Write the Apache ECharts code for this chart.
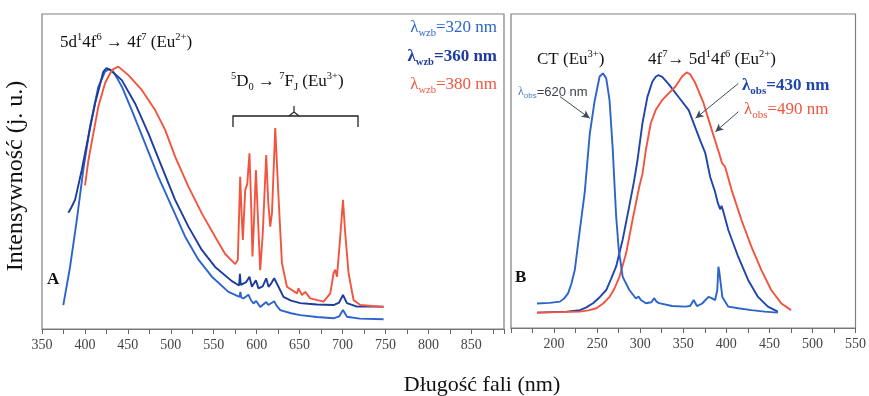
<!DOCTYPE html>
<html>
<head>
<meta charset="utf-8">
<script src="https://cdn.jsdelivr.net/npm/echarts@6/dist/echarts.min.js"></script>
<style>
html,body{margin:0;padding:0;background:#fff;}
#chart{width:869px;height:396px;}
</style>
</head>
<body>
<div id="chart"></div>
<script>
// ---- tick labels ----
const leftTickLabels = [350, 400, 450, 500, 550, 600, 650, 700, 750, 800, 850];
const rightTickLabels = [200, 250, 300, 350, 400, 450, 500, 550];

// ---- Panel A: emission spectra [wavelength nm, intensity a.u.] ----
const em320 = [[374.8,7.6],[382.6,19.6],[390.4,34.3],[398.1,50.5],[405.9,64.2],[415.6,76.9],[423.4,81.7],[428,82.5],[433.1,81.7],[442.9,77],[454.5,69.5],[470,58.9],[485.5,48.3],[501.2,38.8],[516.7,29.3],[532.2,22],[547.8,16.6],[567.1,11.8],[580,10.2],[581,11.8],[582,10],[584.6,9.7],[588,10.4],[590.4,10.9],[593,9.3],[596.3,8.1],[599.4,8.9],[604.1,7],[611.1,8.6],[613.5,7.6],[615.8,8.1],[620.4,8.8],[623,7.5],[627.4,6],[640,5],[650.7,4.4],[670,3.8],[689.5,3.4],[696,4],[700.5,6],[705.1,3.9],[720,3.3],[747.8,3.1]];
const em360 = [[380.7,36.9],[384,38.5],[388.5,41],[396.3,50.5],[404,61.1],[411.8,71.6],[421.4,81.7],[425,82.8],[429.3,82.3],[442.9,79],[458.4,71.6],[473.9,62.1],[489.5,51.5],[505,41],[520.5,32.5],[536.1,25.1],[551.6,19.7],[571.1,15.2],[579.5,13.8],[580.5,17.5],[581.5,14],[583,13.8],[587.8,14.9],[591.6,16.6],[594.4,13.4],[599.1,15.5],[602.1,12.9],[607,13.5],[611.1,16.1],[613.8,13.4],[617,14.5],[620.4,16.1],[625.4,13.4],[631.2,10.2],[640,9],[650.7,8.2],[660,8],[670,7.8],[689.5,7.6],[696,8.4],[700.5,10.8],[705.1,8.2],[716.8,7.1],[747.8,7.1]];
const em380 = [[400.1,45.6],[404,53.5],[409.8,62.1],[415.6,70.6],[423.4,78],[429.3,81.2],[433,82.5],[438.9,83.3],[450.6,80.6],[466.2,75.9],[481.7,69.5],[493.4,63.2],[505,54.7],[520.5,45.2],[536.1,36.7],[551.6,29.3],[563.3,23.8],[575,20.6],[578,22],[580.8,48.3],[582.5,36],[583.9,28.3],[586.6,44.1],[589,46],[591.6,55.8],[593.5,40],[595.1,23],[597,35],[599.1,50.5],[601.5,35],[604.1,18.7],[607,30],[611.1,55.2],[613.5,40],[615.8,32.5],[617.8,36.8],[621.6,63.8],[625.4,42],[629.4,20.9],[635.2,13.4],[646.9,11.3],[648.7,12.9],[652.7,10.8],[656.5,11.8],[662.4,9.7],[677.9,8.7],[685.7,11.3],[689.5,17.7],[691.5,18.8],[693.5,16.6],[697.3,29.3],[700.5,41],[703.1,30.4],[707,17.7],[712.8,9.2],[720.6,7.6],[747.8,7]];

// ---- Panel B: excitation spectra ----
const exc620 = [[180.1,7.8],[195,8],[206.9,8.4],[212,9.5],[216.4,11.1],[220,14],[224.1,18.5],[229.9,31.2],[235.6,43.2],[241.4,61.7],[247.1,72.3],[252.9,80.1],[256.7,81.1],[260.6,79.5],[264.4,72.6],[268.2,56.7],[270.1,46.1],[272.1,35.5],[275.1,25],[279.7,16.3],[287.4,12.1],[295.1,9.4],[298.1,10],[300.8,8.9],[306.6,7.9],[313,8.2],[316.1,9.5],[319,8.4],[321.8,7.9],[337.1,7],[352.5,6.8],[358,7],[362.1,8.9],[365.9,7],[372,7.8],[379.3,9.9],[383,9.5],[387,8.9],[389.5,12],[390.8,19.5],[391.8,18],[392.8,18.5],[395.4,9.9],[402.3,6.8],[413.8,6.3],[429.1,5.7],[444.5,5.2],[459.8,4.9]];
const exc430 = [[180.1,4.9],[214.6,5.2],[229.9,5.7],[237,6.5],[245.2,7.9],[253,9.8],[260.6,12.1],[266,15.5],[272.1,19.6],[279.7,28.2],[287.4,38.9],[293.1,47.1],[296.9,53.5],[302.6,65.2],[308.4,73.6],[314.1,78.4],[318,80],[321,80.5],[325.6,80],[333.3,77.6],[344.8,73.5],[356.3,69.4],[364,63.8],[370,59.5],[375.5,55.8],[381.3,48.1],[387,43.3],[390,40],[392.8,37.8],[394.5,38.9],[396.6,37],[402.3,31.2],[413.8,22.7],[425.3,15.3],[436.8,9.9],[448.3,6.8],[459.8,5.2]];
const exc490 = [[180.1,4.9],[229.9,5.2],[240,5.6],[249.1,6.3],[257,7.8],[264.4,9.9],[270,12.5],[275.9,16.3],[283.6,23.7],[291.1,34.4],[298.9,45],[302.6,49],[306.6,56.7],[312.3,65.2],[318,69.4],[325.6,72.6],[333.3,74.8],[341,76.9],[348.6,80.1],[354,81.4],[358,80.8],[364,78],[373.6,71.6],[383.1,63.1],[392.8,54.6],[395,52.5],[398.5,51.4],[406.1,44],[417.6,34.4],[429.1,25.9],[440.6,18.5],[452.1,12.1],[463.6,7.9],[475.1,5.7]];

// annotation arrows (data coordinates, panel B)
const arrow620 = [[206.9,73.7],[241.4,66.8]];
const arrow430 = [[414.1,77.9],[364.3,66.8]];
const arrow490 = [[414.1,68.9],[387.3,62.5]];

const SERIF = '"Liberation Serif", "DejaVu Serif", serif';
const SANS = '"Liberation Sans", Arial, sans-serif';
const C320 = '#2c64cc', C360 = '#1d3c9c', CRED = '#f2553f';
const CBLUE_B = '#1f46aa';

const chart = echarts.init(document.getElementById('chart'), null, {renderer: 'canvas'});

function xAxisCfg(grid, min, max, labels) {
  return {
    gridIndex: grid, type: 'value', min: min, max: max, interval: 25,
    axisLine: {show: true, onZero: false, lineStyle: {color: '#777', width: 1.2}},
    axisTick: {show: true, length: 5, lineStyle: {color: '#666', width: 1}},
    axisLabel: {
      formatter: v => labels.includes(v) ? String(v) : '',
      fontFamily: SERIF, fontSize: 14, color: '#444', margin: 9,
      showMinLabel: true, showMaxLabel: true
    },
    splitLine: {show: false}
  };
}
function yAxisCfg(grid) {
  return {gridIndex: grid, type: 'value', min: 0, max: 100, show: false, splitLine: {show: false}};
}
function lineSeries(data, color, xi, width) {
  return {
    type: 'line', data: data, xAxisIndex: xi, yAxisIndex: xi,
    showSymbol: false, symbol: 'none', smooth: false,
    lineStyle: {color: color, width: width || 1.9}, silent: true
  };
}

const sup = {fontSize: 10.5, lineHeight: 12, verticalAlign: 'top', fontFamily: SERIF, fill: '#111'};
const sub = {fontSize: 10.5, lineHeight: 12, verticalAlign: 'bottom', fontFamily: SERIF, fill: '#111'};

function txt(x, y, text, opts) {
  opts = opts || {};
  const style = Object.assign({
    text: text, fontFamily: SERIF, fontSize: 17, fill: '#111', lineHeight: 22,
    align: opts.align || 'left', textAlign: opts.align || 'left',
    verticalAlign: 'middle', textVerticalAlign: 'middle'
  }, opts.style || {});
  return {type: 'text', x: x, y: y, rotation: opts.rotation || 0, silent: true, z: 100, style: style};
}

const legendRich = (color, bold) => ({
  sub: {fontSize: 10.5, lineHeight: 12, verticalAlign: 'bottom', fontFamily: SERIF, fill: color, fontWeight: bold ? 'bold' : 'normal'}
});

const option = {
  animation: false,
  backgroundColor: '#fff',
  grid: [
    {left: 42, top: 14, width: 462, height: 315, show: true, borderColor: '#808080', borderWidth: 1.2, backgroundColor: 'transparent', containLabel: false},
    {left: 511, top: 14, width: 347, height: 314, show: true, borderColor: '#808080', borderWidth: 1.2, backgroundColor: 'transparent', containLabel: false}
  ],
  xAxis: [xAxisCfg(0, 350, 888, leftTickLabels), xAxisCfg(1, 150, 550, rightTickLabels)],
  yAxis: [yAxisCfg(0), yAxisCfg(1)],
  series: [
    lineSeries(em320, C320, 0),
    lineSeries(em360, C360, 0),
    lineSeries(em380, CRED, 0),
    lineSeries(exc430, CBLUE_B, 1),
    lineSeries(exc490, CRED, 1),
    Object.assign(lineSeries(exc620, C320, 1), {
      markLine: {
        silent: true, animation: false,
        symbol: ['none', 'arrow'], symbolSize: [6, 8],
        label: {show: false},
        lineStyle: {color: '#3b4b5b', width: 1, type: 'solid'},
        data: [
          [{coord: arrow620[0]}, {coord: arrow620[1]}],
          [{coord: arrow430[0]}, {coord: arrow430[1]}],
          [{coord: arrow490[0]}, {coord: arrow490[1]}]
        ]
      }
    })
  ],
  graphic: [
    // axis titles
    txt(16, 176, 'Intensywność (j. u.)', {align: 'center', rotation: Math.PI / 2, style: {fontSize: 24}}),
    txt(482, 385, 'Długość fali (nm)', {align: 'center', style: {fontSize: 22}}),
    // panel A annotations
    txt(60, 43, '5d{sup|1}4f{sup|6} → 4f{sup|7} (Eu{sup|2+})', {style: {rich: {sup: sup}}}),
    txt(231, 82, '{sup|5}D{sub|0} → {sup|7}F{sub|J} (Eu{sup|3+})', {style: {rich: {sup: sup, sub: sub}}}),
    {type: 'polyline', silent: true, z: 100, shape: {points: [[233, 127], [233, 116], [358, 116], [358, 127]]}, style: {stroke: '#222', lineWidth: 1.3, fill: null}},
    {type: 'polyline', silent: true, z: 100, shape: {points: [[289, 116], [294, 112], [294, 106], [294, 112], [299, 116]]}, style: {stroke: '#222', lineWidth: 1.2, fill: null}},
    txt(497, 28, 'λ{sub|wzb}=320 nm', {align: 'right', style: {fill: C320, rich: legendRich(C320, false)}}),
    txt(497, 57, 'λ{sub|wzb}=360 nm', {align: 'right', style: {fill: C360, fontWeight: 'bold', rich: legendRich(C360, true)}}),
    txt(497, 85, 'λ{sub|wzb}=380 nm', {align: 'right', style: {fill: CRED, rich: legendRich(CRED, false)}}),
    txt(47, 280, 'A', {style: {fontWeight: 'bold', fontSize: 17}}),
    // panel B annotations
    txt(537, 60, 'CT (Eu{sup|3+})', {style: {rich: {sup: sup}}}),
    txt(648, 60, '4f{sup|7}→ 5d{sup|1}4f{sup|6} (Eu{sup|2+})', {style: {rich: {sup: sup}}}),
    txt(518, 92, '{l|λ}{s|obs}{t|=620 nm}', {style: {fontFamily: SANS, fontSize: 13, rich: {
      l: {fontFamily: SERIF, fontSize: 12, fill: '#4a7bc8', lineHeight: 16},
      s: {fontFamily: SANS, fontSize: 8, fill: '#4a7bc8', lineHeight: 8, verticalAlign: 'bottom'},
      t: {fontFamily: SANS, fontSize: 13, fill: '#3a3f4a', lineHeight: 16}
    }}}),
    txt(742, 86, 'λ{sub|obs}=430 nm', {style: {fill: CBLUE_B, fontWeight: 'bold', fontSize: 17, rich: {
      sub: {fontSize: 11, lineHeight: 12, verticalAlign: 'bottom', fontFamily: SERIF, fill: CBLUE_B, fontWeight: 'bold'}}}}),
    txt(744, 110, 'λ{sub|obs}=490 nm', {style: {fill: CRED, fontSize: 17, rich: {
      sub: {fontSize: 11, lineHeight: 12, verticalAlign: 'bottom', fontFamily: SERIF, fill: CRED}}}}),
    txt(515, 278, 'B', {style: {fontWeight: 'bold', fontSize: 17}})
  ]
};
chart.setOption(option);
</script>
</body>
</html>
